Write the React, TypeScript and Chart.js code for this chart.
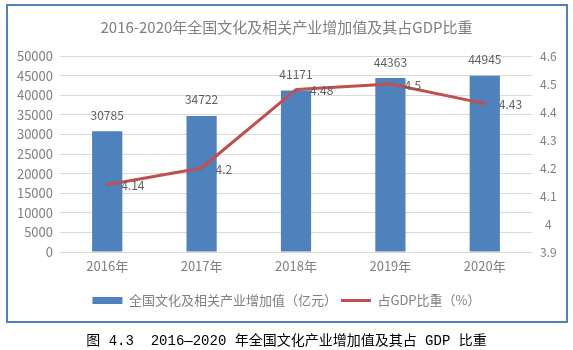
import React, { useEffect, useRef } from 'react';
import { Chart, registerables } from 'chart.js';

Chart.register(...registerables);

const chartTitle = '2016-2020年全国文化及相关产业增加值及其占GDP比重';
const caption = '图 4.3  2016—2020 年全国文化产业增加值及其占 GDP 比重';
const categories = ['2016年', '2017年', '2018年', '2019年', '2020年'];
const seriesNames = ['全国文化及相关产业增加值（亿元）', '占GDP比重（%）'];
const addedValue = [30785, 34722, 41171, 44363, 44945];
const gdpShare = [4.14, 4.2, 4.48, 4.5, 4.43];
const leftAxisRange = [0, 50000, 5000];
const rightAxisRange = [3.9, 4.6, 0.1];

const FONT = "'Noto Sans CJK SC', 'Noto Sans', sans-serif";
const BLUE = '#4F81BD';
const RED = '#C0504D';
const TICK_COLOR = '#808080';

const valueLabels = {
  id: 'valueLabels',
  afterDatasetsDraw(chart: any) {
    const ctx = chart.ctx;
    ctx.save();
    ctx.font = `12px ${FONT}`;
    ctx.fillStyle = '#606060';
    ctx.textBaseline = 'middle';
    chart.data.datasets.forEach((ds: any, i: number) => {
      const meta = chart.getDatasetMeta(i);
      meta.data.forEach((el: any, j: number) => {
        const v = ds.data[j];
        if (meta.type === 'bar') {
          ctx.textAlign = 'center';
          ctx.fillText(String(v), el.x, el.y - 16);
        } else {
          ctx.textAlign = 'left';
          ctx.fillText(String(v), el.x + 14, el.y + 1);
        }
      });
    });
    ctx.restore();
  },
};

export default function App() {
  const ref = useRef<HTMLCanvasElement | null>(null);

  useEffect(() => {
    if (!ref.current) return;
    const chart = new Chart(ref.current, {
      type: 'bar',
      data: {
        labels: categories,
        datasets: [
          {
            type: 'bar',
            label: seriesNames[0],
            data: addedValue,
            backgroundColor: BLUE,
            borderWidth: 0,
            yAxisID: 'y',
            barPercentage: 0.4,
            categoryPercentage: 0.8,
            order: 2,
          } as any,
          {
            type: 'line',
            label: seriesNames[1],
            data: gdpShare,
            borderColor: RED,
            backgroundColor: RED,
            borderWidth: 3,
            pointRadius: 0,
            tension: 0,
            borderJoinStyle: 'round',
            borderCapStyle: 'round',
            yAxisID: 'y1',
            order: 1,
          } as any,
        ],
      },
      options: {
        responsive: false,
        animation: false,
        devicePixelRatio: 1,
        layout: { padding: { top: 0, left: 0, right: 0, bottom: 5 } },
        plugins: {
          title: {
            display: true,
            text: chartTitle,
            color: '#808080',
            font: { family: FONT, size: 15, weight: 'normal' },
            padding: { top: 18, bottom: 20 },
          },
          legend: {
            position: 'bottom',
            labels: {
              color: '#808080',
              font: { family: FONT, size: 13 },
              usePointStyle: true,
              pointStyleWidth: 30,
              boxHeight: 7,
              padding: 4,
              sort: (a: any, b: any) => a.datasetIndex - b.datasetIndex,
              generateLabels(chart: any) {
                const items = (Chart.defaults.plugins.legend.labels as any).generateLabels(chart);
                items.forEach((it: any) => {
                  const ds = chart.data.datasets[it.datasetIndex];
                  if (ds.type === 'line') {
                    it.pointStyle = 'line';
                    it.lineWidth = 3;
                    it.strokeStyle = RED;
                  } else {
                    it.pointStyle = 'rect';
                    it.lineWidth = 0;
                    it.fillStyle = BLUE;
                  }
                });
                return items;
              },
            },
          },
          tooltip: { enabled: false },
        },
        scales: {
          x: {
            grid: { display: false, drawTicks: false },
            border: { display: false },
            ticks: { color: TICK_COLOR, font: { family: FONT, size: 13 }, padding: 6 },
            afterFit(s: any) {
              s.height = 38;
            },
          },
          y: {
            position: 'left',
            min: leftAxisRange[0],
            max: leftAxisRange[1],
            grid: { color: '#D9D9D9', drawTicks: false },
            border: { display: false },
            ticks: {
              stepSize: leftAxisRange[2],
              color: TICK_COLOR,
              font: { family: FONT, size: 13 },
              padding: 7,
              callback: (v: any) => String(v),
            },
            afterFit(s: any) {
              s.width = 60;
            },
          },
          y1: {
            position: 'right',
            min: rightAxisRange[0],
            max: rightAxisRange[1],
            grid: { display: false, drawTicks: false },
            border: { display: false },
            ticks: {
              stepSize: rightAxisRange[2],
              color: TICK_COLOR,
              font: { family: FONT, size: 12 },
              padding: 8,
              crossAlign: 'center',
              callback: (v: any) => String(Number(Number(v).toFixed(1))),
            },
            afterFit(s: any) {
              s.width = 41;
            },
          },
        },
      } as any,
      plugins: [valueLabels],
    });
    return () => chart.destroy();
  }, []);

  return (
    <div
      style={{
        position: 'fixed',
        left: 0,
        top: 0,
        width: 573,
        height: 350,
        background: '#fff',
        overflow: 'hidden',
      }}
    >
      <canvas
        ref={ref}
        width={573}
        height={322}
        style={{ position: 'absolute', left: 0, top: 0, width: 573, height: 322 }}
      />
      <div
        style={{
          position: 'absolute',
          left: 6,
          top: 4,
          width: 562,
          height: 319,
          boxSizing: 'border-box',
          border: `2px solid ${BLUE}`,
          pointerEvents: 'none',
        }}
      />
      <div
        style={{
          position: 'absolute',
          left: 0,
          top: 331,
          width: 573,
          height: 20,
          lineHeight: '20px',
          textAlign: 'center',
          whiteSpace: 'pre',
          fontFamily: "'Liberation Mono', 'Noto Sans CJK SC', monospace",
          fontSize: 14,
          color: '#000',
        }}
      >
        {caption}
      </div>
    </div>
  );
}
